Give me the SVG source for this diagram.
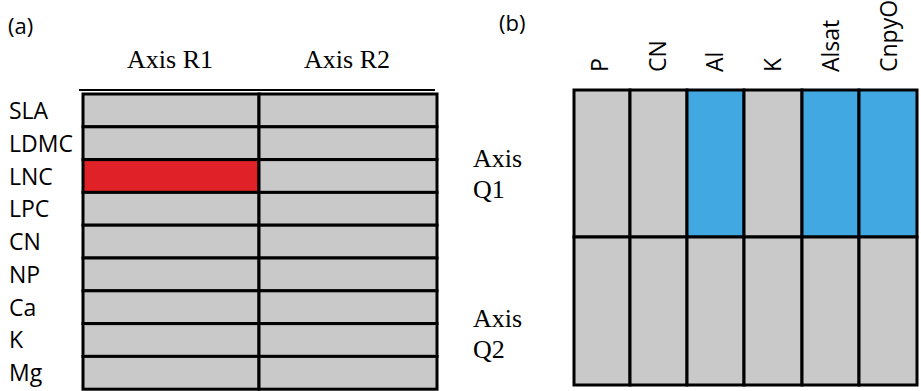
<svg xmlns="http://www.w3.org/2000/svg" width="921" height="391" viewBox="0 0 921 391">
<style>
.cell{fill:#c9c9c9;stroke:#000;stroke-width:3}
.red{fill:#e02127}
.blue{fill:#42a8e2}
.sans{font-family:"Open Sans","Liberation Sans",sans-serif;fill:#000}
.serif{font-family:"Liberation Serif","Times New Roman",serif;font-size:26px;fill:#000}
.row{font-size:23px}
.col{font-size:23px}
</style>
<rect width="921" height="391" fill="#fff"/>
<g id="panel-a">
<text class="sans" x="8" y="34" font-size="22">(a)</text>
<text class="serif" x="170" y="68" text-anchor="middle">Axis R1</text>
<text class="serif" x="347" y="68" text-anchor="middle">Axis R2</text>
<line x1="79" y1="90" x2="435" y2="90" stroke="#000" stroke-width="1.8"/>
<g id="row-SLA"><text class="sans row" x="9" y="119">SLA</text><rect class="cell" x="83" y="94" width="176" height="32.8"/><rect class="cell" x="259" y="94" width="178" height="32.8"/></g>
<g id="row-LDMC"><text class="sans row" x="9" y="152">LDMC</text><rect class="cell" x="83" y="126.8" width="176" height="32.8"/><rect class="cell" x="259" y="126.8" width="178" height="32.8"/></g>
<g id="row-LNC"><text class="sans row" x="9" y="185">LNC</text><rect class="cell red" x="83" y="159.6" width="176" height="32.8"/><rect class="cell" x="259" y="159.6" width="178" height="32.8"/></g>
<g id="row-LPC"><text class="sans row" x="9" y="217">LPC</text><rect class="cell" x="83" y="192.4" width="176" height="32.8"/><rect class="cell" x="259" y="192.4" width="178" height="32.8"/></g>
<g id="row-CN"><text class="sans row" x="9" y="250">CN</text><rect class="cell" x="83" y="225.2" width="176" height="32.8"/><rect class="cell" x="259" y="225.2" width="178" height="32.8"/></g>
<g id="row-NP"><text class="sans row" x="9" y="283">NP</text><rect class="cell" x="83" y="258" width="176" height="32.8"/><rect class="cell" x="259" y="258" width="178" height="32.8"/></g>
<g id="row-Ca"><text class="sans row" x="9" y="316">Ca</text><rect class="cell" x="83" y="290.8" width="176" height="32.8"/><rect class="cell" x="259" y="290.8" width="178" height="32.8"/></g>
<g id="row-K"><text class="sans row" x="9" y="348">K</text><rect class="cell" x="83" y="323.6" width="176" height="32.8"/><rect class="cell" x="259" y="323.6" width="178" height="32.8"/></g>
<g id="row-Mg"><text class="sans row" x="9" y="381">Mg</text><rect class="cell" x="83" y="356.4" width="176" height="32.8"/><rect class="cell" x="259" y="356.4" width="178" height="32.8"/></g>
</g>
<g id="panel-b">
<text class="sans" x="499" y="31" font-size="22">(b)</text>
<g id="axis-Q1"><text class="serif" x="473" y="167">Axis</text><text class="serif" x="473" y="198">Q1</text></g>
<g id="axis-Q2"><text class="serif" x="473" y="327">Axis</text><text class="serif" x="473" y="358">Q2</text></g>
<g id="col-P"><text class="sans col" transform="translate(608,72) rotate(-90)">P</text><rect class="cell" x="574" y="90" width="56" height="147"/><rect class="cell" x="574" y="237" width="56" height="148"/></g>
<g id="col-CN"><text class="sans col" transform="translate(666,72) rotate(-90)">CN</text><rect class="cell" x="630" y="90" width="57" height="147"/><rect class="cell" x="630" y="237" width="57" height="148"/></g>
<g id="col-Al"><text class="sans col" transform="translate(723,72) rotate(-90)">Al</text><rect class="cell blue" x="687" y="90" width="57" height="147"/><rect class="cell" x="687" y="237" width="57" height="148"/></g>
<g id="col-K"><text class="sans col" transform="translate(781,72) rotate(-90)">K</text><rect class="cell" x="744" y="90" width="58" height="147"/><rect class="cell" x="744" y="237" width="58" height="148"/></g>
<g id="col-Alsat"><text class="sans col" transform="translate(839,72) rotate(-90)">Alsat</text><rect class="cell blue" x="802" y="90" width="57" height="147"/><rect class="cell" x="802" y="237" width="57" height="148"/></g>
<g id="col-CnpyO"><text class="sans col" transform="translate(897,72) rotate(-90)">CnpyO</text><rect class="cell blue" x="859" y="90" width="58" height="147"/><rect class="cell" x="859" y="237" width="58" height="148"/></g>
</g>
</svg>
